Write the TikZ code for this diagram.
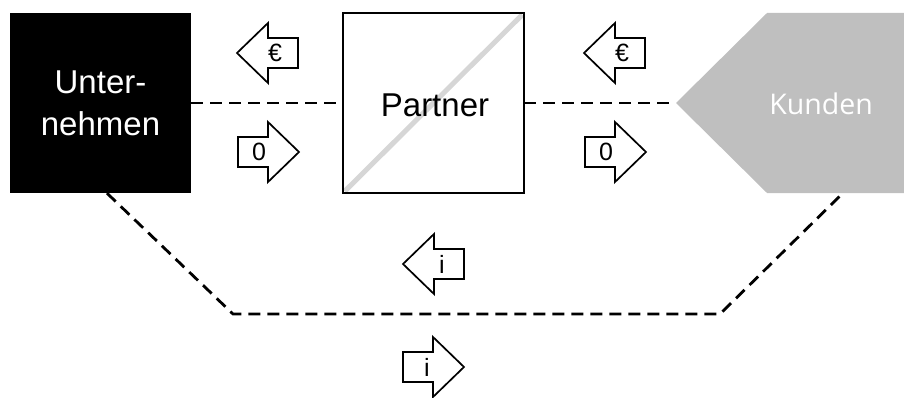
\documentclass[tikz,border=0pt]{standalone}
\usepackage{fontspec}
\setmainfont{Liberation Sans}
\newfontfamily\kundenfont{Open Sans}
\definecolor{kgray}{RGB}{191,191,191}
\definecolor{diaggray}{RGB}{214,214,214}
\newcommand\arrL[2]{\draw[arr] (#1,#2) -- ++(31,-30) -- ++(0,15) -- ++(30,0) -- ++(0,30) -- ++(-30,0) -- ++(0,15) -- cycle;}
\newcommand\arrR[2]{\draw[arr] (#1,#2) -- ++(-31,-30) -- ++(0,15) -- ++(-30,0) -- ++(0,30) -- ++(30,0) -- ++(0,15) -- cycle;}
\begin{document}
\begin{tikzpicture}[x=1pt,y=-1pt,
  box/.style={minimum width=181pt, minimum height=180pt, inner sep=0pt, align=center, font=\fontsize{33}{42}\selectfont},
  flow/.style={line width=2.8pt, dash pattern=on 12pt off 7pt},
  arr/.style={draw=black, line width=1.7pt, fill=white, line join=miter},
  lbl/.style={font=\fontsize{25}{25}\selectfont, inner sep=0pt}]
\useasboundingbox (0,0) rectangle (904,398);

% Unternehmen
\node[box, fill=black, text=white] (U) at (100.5,103) {Unter-\\nehmen};

% Partner
\node[box, fill=white] (P) at (433.5,103) {};
\draw[diaggray, line width=5pt] ([shift={(2pt,2pt)}]P.south west) -- ([shift={(-2pt,-2pt)}]P.north east);
\draw[line width=1.5pt] (P.south west) rectangle (P.north east);
\node[font=\fontsize{33}{33}\selectfont, inner sep=0pt] (Pt) at (435,105) {Partner};

% Kunden
\fill[kgray] (676,103) -- (767,13) -- (904,13) -- (904,193) -- (767,193) -- cycle;
\coordinate (K) at (676,103);
\coordinate (K2) at (843,193);
\node[text=white, inner sep=0pt, font=\kundenfont\fontsize{28.5}{30}\selectfont] (Kt) at (821,104) {Kunden};

% connectors
\draw[flow] (U.east) -- (P.west);
\draw[flow] (P.east) -- (K);
\coordinate (L1) at (233,314);
\coordinate (L2) at (720,314);
\draw[flow] ([xshift=6.5pt]U.south) -- (L1) -- (L2) -- (K2);

% flow arrows
\arrL{237}{53}
\arrR{299}{152}
\arrL{584}{53}
\arrR{646}{152}
\arrL{403}{264}
\arrR{464}{367}
\node[lbl] (e1) at (275,53) {€};
\node[lbl] (z1) at (259,152) {0};
\node[lbl] (e2) at (622,53) {€};
\node[lbl] (z2) at (606,152) {0};
\node[lbl] (i1) at (442,264) {i};
\node[lbl] (i2) at (427,367) {i};
\end{tikzpicture}
\end{document}
